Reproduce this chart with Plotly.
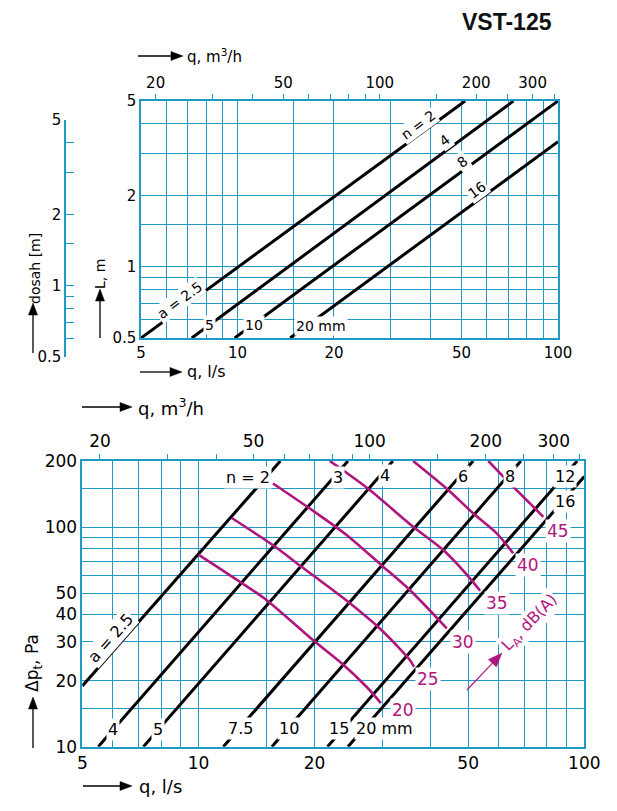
import numpy as np
import plotly.graph_objects as go

W, H = 617, 811
FONT = "DejaVu Sans, Verdana, sans-serif"
TFONT = "Liberation Sans, Arial, sans-serif"
TEAL = "#1f9ac6"
MAG = "#b0157d"

# ---------------- data ----------------
# top chart: throw L [m] vs airflow q [l/s]
top_n_labels = ["n = 2", "4", "8", "16"]
top_a_labels = ["a = 2.5", "5", "10", "20 mm"]
top_q = [[5.0, 51.3], [7.2, 72.6], [9.8, 100.0], [14.6, 100.0]]
top_L = [[0.5, 5.0], [0.5, 5.0], [0.5, 5.0], [0.5, 3.37]]

# bottom chart: pressure drop dp [Pa] vs q [l/s]
bot_n_labels = ["n = 2", "3", "4", "6", "8", "12", "16"]
bot_a_labels = ["a = 2.5", "4", "5", "7.5", "10", "15", "20 mm"]
bot_q = [[5.0, 16.3], [5.5, 24.4], [7.2, 31.9], [11.6, 51.5],
         [15.5, 68.5], [21.6, 95.8], [24.4, 100.0]]
bot_dp = [[18.9, 200], [10, 200], [10, 200], [10, 200],
          [10, 200], [10, 200], [10, 170]]

# sound power level curves L_A [dB(A)]
la_levels = ["20", "25", "30", "35", "40", "45"]
la_q = [
    [10.0, 12.8, 15.0, 19.8, 23.5, 27.3, 29.7],
    [12.2, 15.8, 18.5, 24.7, 29.8, 35.3, 36.2],
    [15.6, 19.4, 24.2, 29.8, 35.3, 44.0],
    [21.9, 24.0, 27.8, 36.0, 43.1, 51.0, 53.7],
    [36.0, 44.4, 51.5, 59.3, 65.4],
    [56.4, 65.4, 72.3, 78.3],
]
la_dp = [
    [75.0, 56.4, 46.6, 30.6, 24.0, 18.7, 15.8],
    [110.0, 81.4, 66.0, 45.0, 34.0, 24.8, 23.1],
    [158.0, 121.8, 92.1, 67.1, 51.7, 34.6],
    [200, 178.6, 147.6, 100.4, 78.6, 57.4, 51.3],
    [200, 147.6, 115.6, 93.7, 76.0],
    [200, 152.8, 128.2, 111.4],
]

# axis ticks (labelled ticks + grid values)
q_ticks = [5, 10, 20, 50, 100]
q_grid = [5, 6, 7, 8, 9, 10, 15, 20, 30, 40, 50, 60, 70, 80, 90, 100]
L_ticks = [0.5, 1, 2, 5]
L_grid = [0.5, 0.6, 0.7, 0.8, 0.9, 1, 1.5, 2, 3, 4, 5]
dp_ticks = [10, 20, 30, 40, 50, 100, 200]
dp_grid = [10, 15, 20, 30, 40, 50, 60, 70, 80, 90, 100, 150, 200]
m3h_ticks = [20, 50, 100, 200, 300]
m3h_minor = [20, 30, 40, 50, 60, 70, 80, 90, 100, 150, 200, 250, 300, 350]

# ---------------- layout helpers ----------------
def px(x):
    return x / W

def py(y):
    return 1 - y / H

def dom_x(a, b):
    return [a / W, b / W]

def dom_y(top, bottom):
    return [1 - bottom / H, 1 - top / H]

def logaxis(domain, rng, tv, grid, fs, anchor):
    return dict(type="log", domain=domain, anchor=anchor,
                range=[np.log10(rng[0]), np.log10(rng[1])],
                tickmode="array", tickvals=tv, ticktext=[("%g" % v) for v in tv],
                showgrid=True, gridcolor=TEAL, gridwidth=1.2,
                minor=dict(tickmode="array", tickvals=grid, showgrid=True,
                           gridcolor=TEAL, gridwidth=1.2, ticks=""),
                showline=True, linecolor=TEAL, linewidth=1.5, mirror=True,
                ticks="", zeroline=False,
                tickfont=dict(size=fs, color="black", family=FONT))

def topaxis(over, anchor, fs):
    return dict(type="log", overlaying=over, anchor=anchor, side="top",
                range=[np.log10(18), np.log10(360)],
                tickmode="array", tickvals=m3h_ticks,
                ticktext=[("%g" % v) for v in m3h_ticks],
                ticks="outside", ticklen=6, tickcolor=TEAL, tickwidth=1.2,
                minor=dict(tickmode="array", tickvals=m3h_minor, ticks="outside",
                           ticklen=6, tickcolor=TEAL, tickwidth=1.2, showgrid=False),
                showgrid=False, showline=False, zeroline=False,
                tickfont=dict(size=fs, color="black", family=FONT))

def ann(text, x, y, size, color="black", angle=0, bg="white", xanchor="center"):
    return dict(text=text, x=px(x), y=py(y), xref="paper", yref="paper",
                showarrow=False, textangle=angle, bgcolor=bg, borderpad=1,
                xanchor=xanchor, yanchor="middle",
                font=dict(size=size, color=color, family=FONT))

def arrow_shapes(x0, y0, x1, y1, color="black", width=1.3, hl=12, hw=4.5):
    dx, dy = x1 - x0, y1 - y0
    L = float(np.hypot(dx, dy))
    ux, uy = dx / L, dy / L
    bx, by = x1 - ux * hl, y1 - uy * hl
    line = dict(type="line", xref="paper", yref="paper",
                x0=px(x0), y0=py(y0), x1=px(bx), y1=py(by),
                line=dict(color=color, width=width))
    p1 = (bx - uy * hw, by + ux * hw)
    p2 = (bx + uy * hw, by - ux * hw)
    path = "M %f,%f L %f,%f L %f,%f Z" % (px(x1), py(y1), px(p1[0]), py(p1[1]),
                                          px(p2[0]), py(p2[1]))
    head = dict(type="path", xref="paper", yref="paper", path=path,
                fillcolor=color, line=dict(color=color, width=0.5))
    return [line, head]

fig = go.Figure()

# top chart lines
for qs, Ls in zip(top_q, top_L):
    fig.add_trace(go.Scatter(x=qs, y=Ls, mode="lines", xaxis="x", yaxis="y",
                             line=dict(color="black", width=3),
                             showlegend=False, hoverinfo="skip"))
# bottom chart black lines
for qs, ds in zip(bot_q, bot_dp):
    fig.add_trace(go.Scatter(x=qs, y=ds, mode="lines", xaxis="x2", yaxis="y2",
                             line=dict(color="black", width=3),
                             showlegend=False, hoverinfo="skip"))
# magenta L_A curves
for qs, ds in zip(la_q, la_dp):
    fig.add_trace(go.Scatter(x=qs, y=ds, mode="lines", xaxis="x2", yaxis="y2",
                             line=dict(color=MAG, width=2.6, shape="spline", smoothing=0.8),
                             showlegend=False, hoverinfo="skip"))
# dummy traces so the secondary axes exist
fig.add_trace(go.Scatter(x=[], y=[], xaxis="x3", yaxis="y", showlegend=False))
fig.add_trace(go.Scatter(x=[], y=[], xaxis="x4", yaxis="y2", showlegend=False))
fig.add_trace(go.Scatter(x=[], y=[], xaxis="x5", yaxis="y5", showlegend=False))

layout = dict(
    width=W, height=H, margin=dict(l=0, r=0, t=0, b=0, autoexpand=False),
    paper_bgcolor="white", plot_bgcolor="rgba(0,0,0,0)", showlegend=False,
    font=dict(family=FONT, color="black"),
    xaxis=logaxis(dom_x(141, 558), (5, 100), q_ticks, q_grid, 15, "y"),
    yaxis=logaxis(dom_y(101, 338), (0.5, 5), L_ticks, L_grid, 15, "x"),
    xaxis2=logaxis(dom_x(82.3, 584.3), (5, 100), q_ticks, q_grid, 17, "y2"),
    yaxis2=logaxis(dom_y(461, 746.7), (10, 200), dp_ticks, dp_grid, 17, "x2"),
    xaxis3=topaxis("x", "y", 15),
    xaxis4=topaxis("x2", "y2", 17),
    xaxis5=dict(domain=dom_x(66, 74), anchor="y5", visible=False, range=[0, 1]),
    yaxis5=dict(type="log", domain=dom_y(120, 357), anchor="x5",
                range=[np.log10(0.5), np.log10(5)], side="left",
                tickmode="array", tickvals=L_ticks,
                ticktext=[("%g" % v) for v in L_ticks],
                ticks="", showgrid=True, gridcolor=TEAL, gridwidth=1.2,
                minor=dict(tickmode="array", tickvals=L_grid, showgrid=True,
                           gridcolor=TEAL, gridwidth=1.2, ticks=""),
                showline=True, linecolor=TEAL, linewidth=1.5, zeroline=False,
                tickfont=dict(size=15, color="black", family=FONT)),
)

ang_top = -36.5
ang_bot = -48.7
anns = []
shapes = []
# title
anns.append(dict(text="<b>VST-125</b>", x=px(507), y=py(22), xref="paper", yref="paper",
                 xanchor="center", yanchor="middle", showarrow=False,
                 font=dict(size=23, color="#111", family=TFONT)))
# axis titles with arrows
shapes += arrow_shapes(138, 56, 183, 56)
anns.append(ann("q, m<sup>3</sup>/h", 185, 56, 15, xanchor="left", bg="rgba(0,0,0,0)"))
shapes += arrow_shapes(140, 372, 182, 372)
anns.append(ann("q, l/s", 185, 372, 16, xanchor="left", bg="rgba(0,0,0,0)"))
shapes += arrow_shapes(82, 407, 132, 407)
anns.append(ann("q, m<sup>3</sup>/h", 136, 407, 18, xanchor="left", bg="rgba(0,0,0,0)"))
shapes += arrow_shapes(83, 786, 132, 786)
anns.append(ann("q, l/s", 137, 786, 18, xanchor="left", bg="rgba(0,0,0,0)"))
shapes += arrow_shapes(33, 353, 33, 303)
anns.append(ann("dosah [m]", 35, 269, 14, angle=-90, bg="rgba(0,0,0,0)"))
shapes += arrow_shapes(100, 338, 100, 289)
anns.append(ann("L, m", 100, 274, 14, angle=-90, bg="rgba(0,0,0,0)"))
shapes += arrow_shapes(33, 748, 33, 697)
anns.append(ann("Δp<sub>t</sub>, Pa", 33, 663, 17, angle=-90, bg="rgba(0,0,0,0)"))

# top chart line labels
top_n_pos = [(418, 125), (445, 140), (462, 162), (477, 190)]
for t, (x, y) in zip(top_n_labels, top_n_pos):
    anns.append(ann(t, x, y, 14, angle=ang_top))
top_a_pos = [(180, 300, ang_top), (209, 325, 0), (254, 325, 0), (321, 326, 0)]
for t, (x, y, a) in zip(top_a_labels, top_a_pos):
    anns.append(ann(t, x, y, 14, angle=a))

# bottom chart line labels
bot_n_pos = [(248, 477), (338, 477), (385, 475), (463, 476), (510, 476), (565, 476), (565, 502)]
for t, (x, y) in zip(bot_n_labels, bot_n_pos):
    anns.append(ann(t, x, y, 16))
bot_a_pos = [(110, 638, ang_bot), (113, 729, 0), (158, 729, 0), (240, 728, 0),
             (289, 728, 0), (339, 728, 0), (384, 728, 0)]
for t, (x, y, a) in zip(bot_a_labels, bot_a_pos):
    anns.append(ann(t, x, y, 16, angle=a))

# L_A labels
la_pos = [(403, 710), (428, 679), (463, 642), (497, 603), (528, 565), (558, 531)]
for t, (x, y) in zip(la_levels, la_pos):
    anns.append(ann(t, x, y, 17, color=MAG))
anns.append(ann("L<sub>A</sub>, dB(A)", 529, 623, 16, color=MAG, angle=-46))
shapes += arrow_shapes(467, 690, 502, 653, color=MAG, width=1.2, hl=14, hw=5.5)

layout["annotations"] = anns
layout["shapes"] = shapes
fig.update_layout(**layout)
fig.write_html("out.html", config={"displayModeBar": False},
               post_script="document.body.style.margin='0';")
